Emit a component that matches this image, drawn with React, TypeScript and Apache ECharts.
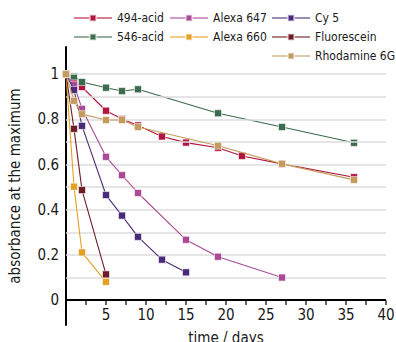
import React, { useEffect, useRef } from "react";
import * as echarts from "echarts";

const FONT = "'DejaVu Sans Condensed', 'DejaVu Sans', sans-serif";

const seriesNames = ["494-acid", "546-acid", "Alexa 647", "Alexa 660", "Cy 5", "Fluorescein", "Rhodamine 6G"];
const colors = ["#b0163e", "#3c6b4e", "#a84a96", "#e2a124", "#4b2b78", "#6e1c25", "#c49b5e"];

const days494 = [0, 1, 2, 5, 7, 9, 12, 15, 19, 22, 27, 36];
const vals494 = [1, 0.972, 0.943, 0.838, 0.801, 0.773, 0.724, 0.697, 0.674, 0.638, 0.603, 0.544];

const days546 = [0, 1, 2, 5, 7, 9, 19, 27, 36];
const vals546 = [1, 0.99, 0.965, 0.94, 0.925, 0.933, 0.827, 0.766, 0.696];

const days647 = [0, 1, 2, 5, 7, 9, 15, 19, 27];
const vals647 = [1, 0.953, 0.846, 0.634, 0.553, 0.474, 0.267, 0.192, 0.1];

const days660 = [0, 1, 2, 5];
const vals660 = [1, 0.502, 0.211, 0.081];

const daysCy5 = [0, 1, 2, 5, 7, 9, 12, 15];
const valsCy5 = [1, 0.93, 0.771, 0.465, 0.374, 0.28, 0.179, 0.123];

const daysFluo = [0, 1, 2, 5];
const valsFluo = [1, 0.758, 0.487, 0.114];

const daysRho = [0, 1, 2, 5, 7, 9, 19, 27, 36];
const valsRho = [1, 0.882, 0.823, 0.797, 0.797, 0.766, 0.683, 0.603, 0.532];

const gridValues = [0.1, 0.2, 0.3, 0.4, 0.5, 0.6, 0.7, 0.8, 0.9, 1.0];
const yLabelValues = [0, 0.2, 0.4, 0.6, 0.8, 1];
const xLabelValues = [5, 10, 15, 20, 25, 30, 35, 40];
const xTickValues = [2.5, 5, 7.5, 10, 12.5, 15, 17.5, 20, 22.5, 25, 27.5, 30, 32.5, 35, 37.5, 40];

const allDays = [days494, days546, days647, days660, daysCy5, daysFluo, daysRho];
const allVals = [vals494, vals546, vals647, vals660, valsCy5, valsFluo, valsRho];

export default function App() {
  const ref = useRef<HTMLDivElement>(null);
  useEffect(() => {
    if (!ref.current) return;
    const chart = echarts.init(ref.current, null, { renderer: "svg" });
    const series: any[] = [
      {
        type: "line",
        name: "__grid",
        data: [],
        silent: true,
        clip: false,
        z: 1,
        markLine: {
          silent: true,
          symbol: "none",
          label: { show: false },
          lineStyle: { color: "#dcdcdc", type: "solid", width: 1.5 },
          data: gridValues.map((v) => ({ yAxis: v })),
        },
      },
      {
        type: "line",
        name: "__xaxis",
        data: [],
        silent: true,
        clip: false,
        z: 30,
        markLine: {
          silent: true,
          symbol: "none",
          label: { show: false },
          lineStyle: { color: "#000", type: "solid", width: 2 },
          data: [{ yAxis: 0 }],
        },
      },
    ];
    xTickValues.forEach((t, k) => {
      series.push({
        type: "line",
        name: "__tick" + k,
        data: [[t, 0], [t, -0.021]],
        symbol: "none",
        silent: true,
        clip: false,
        z: 30,
        lineStyle: { color: "#000", width: 1.2 },
      });
    });
    seriesNames.forEach((name, i) => {
      series.push({
        type: "line",
        name,
        data: allDays[i].map((d, j) => [d, allVals[i][j]]),
        symbol: "rect",
        symbolSize: 7,
        z: 3 + i,
        color: colors[i],
        lineStyle: { color: colors[i], width: 1.1 },
        itemStyle: { color: colors[i], borderColor: "rgba(255,255,255,0.55)", borderWidth: 1 },
      });
    });
    const legendBase = {
      orient: "vertical",
      top: 11,
      padding: 0,
      itemWidth: 38,
      itemHeight: 8,
      itemGap: 5,
      lineStyle: { width: 2, opacity: 0.55 },
      textStyle: { fontFamily: FONT, fontSize: 12, color: "#1a1a1a", lineHeight: 14 },
    };
    chart.setOption({
      animation: false,
      textStyle: { fontFamily: FONT },
      legend: [
        { ...legendBase, left: 73, data: ["494-acid", "546-acid"] },
        { ...legendBase, left: 169, data: ["Alexa 647", "Alexa 660"] },
        { ...legendBase, left: 271, data: ["Cy 5", "Fluorescein", "Rhodamine 6G"] },
      ],
      grid: { left: 66, right: 10, top: 47, bottom: 17, containLabel: false, outerBoundsMode: "none" },
      xAxis: {
        type: "value",
        min: 0,
        max: 40,
        axisLine: { show: false, onZero: false },
        axisTick: { show: false },
        axisLabel: {
          fontFamily: FONT,
          fontSize: 15,
          color: "#1a1a1a",
          margin: -18,
          customValues: xLabelValues,
        },
        splitLine: { show: false },
        name: "time / days",
        nameLocation: "middle",
        nameGap: 0,
        nameTextStyle: { fontFamily: FONT, fontSize: 15, color: "#1a1a1a" },
      },
      yAxis: {
        type: "value",
        min: -0.11,
        max: 1.12,
        axisLine: { show: true, lineStyle: { color: "#000", width: 2 } },
        axisTick: { show: false },
        axisLabel: {
          fontFamily: FONT,
          fontSize: 15,
          color: "#1a1a1a",
          margin: 7,
          customValues: yLabelValues,
          formatter: (v: number) => String(Math.round(v * 10) / 10),
        },
        splitLine: { show: false },
        name: "absorbance at the maximum",
        nameLocation: "middle",
        nameGap: 44,
        nameTextStyle: { fontFamily: FONT, fontSize: 15, color: "#1a1a1a" },
      },
      series,
    });
    return () => chart.dispose();
  }, []);
  return <div ref={ref} style={{ width: 396, height: 342, position: "absolute", left: 0, top: 0 }} />;
}
